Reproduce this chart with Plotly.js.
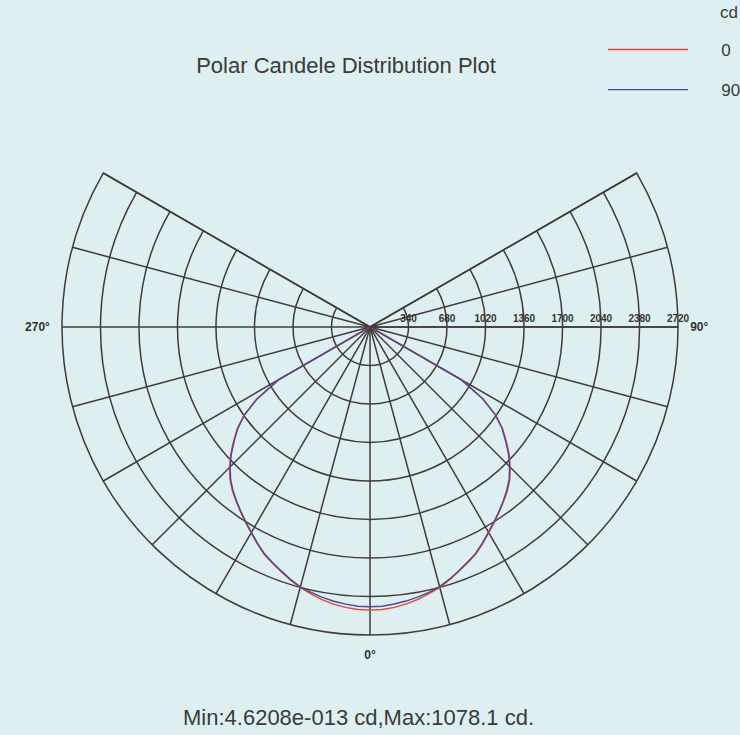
<!DOCTYPE html>
<html>
<head>
<meta charset="utf-8">
<script src="https://cdn.plot.ly/plotly-3.0.1.min.js"></script>
<style>html,body{margin:0;padding:0;background:#ddeff1;}</style>
</head>
<body>
<div id="chart" style="width:740px;height:735px;"></div>
<script>
// Angles (degrees, 0 = nadir, +90 = right side, -90 = left side)
var angles = [-90,-87.5,-85,-82.5,-80,-77.5,-75,-72.5,-70,-67.5,-65,-62.5,
              -60,-57.5,-55,-52.5,-50,-47.5,-45,-42.5,-40,-37.5,-35,-32.5,
              -30,-27.5,-25,-22.5,-20,-17.5,-15,-12.5,-10,-7.5,-5,-2.5,
              0,
              2.5,5,7.5,10,12.5,15,17.5,20,22.5,25,27.5,30,
              32.5,35,37.5,40,42.5,45,47.5,50,52.5,55,57.5,60,
              62.5,65,67.5,70,72.5,75,77.5,80,82.5,85,87.5,90];
// Plane C0-C180 (cd, read against the radial grid)
var plane0 = [0,0,0,0,0,0,0,0,0,0,0,0,
              935,1188,1358,1478,1574,1670,1755,1830,1890,1942,1994,2046,
              2100,2158,2214,2256,2298,2342,2382,2414,2444,2468,2486,2497,
              2500,
              2497,2485,2466,2442,2412,2381,2340,2296,2254,2212,2156,2098,
              2044,1992,1940,1888,1828,1752,1668,1572,1476,1356,1186,933,
              0,0,0,0,0,0,0,0,0,0,0,0];
// Plane C90-C270
var plane90 = [0,0,0,0,0,0,0,0,0,0,0,0,
               930,1182,1352,1471,1565,1661,1746,1822,1883,1936,1988,2041,
               2094,2152,2208,2250,2292,2337,2376,2401,2425,2443,2457,2469,
               2470,
               2468,2456,2441,2423,2400,2374,2335,2290,2248,2206,2150,2092,
               2039,1986,1934,1880,1819,1743,1659,1562,1469,1349,1179,926,
               0,0,0,0,0,0,0,0,0,0,0,0];
var seriesNames = ["0", "90"];
var seriesColors = ["#e8443c", "#4b4a92"];
// Radial grid (cd)
var radialTicks = [340, 680, 1020, 1360, 1700, 2040, 2380, 2720];
var radialLabels = ["340", "680", "1020", "1360", "1700", "2040", "2380", "2720"];
// Angular grid every 15 degrees
var angTicks = [-120,-105,-90,-75,-60,-45,-30,-15,0,15,30,45,60,75,90,105,120];
var angLabels = ["","","270°","","","","","","0°","","","","","","90°","",""];

var bg = "#ddeff1";
var gridCol = "#433a3a";
var txtCol = "#3a3a3a";
var pad = "\u00a0\u00a0\u00a0\u00a0\u00a0\u00a0";

var traces = [
  {type:"scatterpolar", mode:"lines", theta: angles, r: plane0, name: pad + seriesNames[0],
   legendgroup:"a", line:{color: seriesColors[0], width:1.4}, hoverinfo:"skip"},
  {type:"scatterpolar", mode:"lines", theta: angles, r: plane90, name: pad + seriesNames[1],
   legendgroup:"b", line:{color: seriesColors[1], width:1.4}, hoverinfo:"skip"}
];

var layout = {
  width: 740, height: 735,
  margin: {l:0, r:0, t:0, b:0, autoexpand:false},
  paper_bgcolor: bg,
  plot_bgcolor: bg,
  font: {family: "Liberation Sans, Arial, sans-serif", color: txtCol},
  title: {text: "Polar Candele Distribution Plot", x: 346/740, xanchor: "center",
          y: 1 - 65/735, yanchor: "middle", font: {size: 22, color: txtCol}},
  showlegend: true,
  legend: {x: 603/740, xanchor: "left", y: 1 - 32/735, yanchor: "top",
           bgcolor: "rgba(0,0,0,0)", itemwidth: 80, tracegroupgap: 15,
           traceorder: "grouped",
           font: {size: 17, color: txtCol}},
  polar: {
    domain: {x: [62/740, 678/740], y: [1 - 635/735, 1 - 173/735]},
    bgcolor: bg,
    sector: [-210, 30],
    angularaxis: {
      rotation: -90, direction: "counterclockwise",
      tickmode: "array", tickvals: angTicks, ticktext: angLabels,
      showgrid: true, gridcolor: gridCol, gridwidth: 1.5,
      showline: true, linecolor: gridCol, linewidth: 1.5,
      ticks: "outside", ticklen: 9, tickcolor: "rgba(0,0,0,0)",
      tickfont: {size: 12, color: "#333", weight: "bold"}
    },
    radialaxis: {
      range: [0, 2720], angle: 0, side: "counterclockwise", tickangle: 0,
      tickmode: "array", tickvals: radialTicks, ticktext: radialLabels,
      showgrid: true, gridcolor: gridCol, gridwidth: 1.5,
      showline: true, linecolor: gridCol, linewidth: 1.5,
      ticks: "",
      tickfont: {size: 10, color: "#333", weight: "bold"}
    }
  },
  annotations: [
    {text: "Min:4.6208e-013 cd,Max:1078.1 cd.", xref: "paper", yref: "paper",
     x: 358/740, y: 1 - 717/735, xanchor: "center", yanchor: "middle",
     showarrow: false, font: {size: 22, color: txtCol}},
    {text: "cd", xref: "paper", yref: "paper",
     x: 718/740, y: 1 - 13/735, xanchor: "left", yanchor: "middle",
     showarrow: false, font: {size: 17, color: txtCol}}
  ]
};

Plotly.newPlot("chart", traces, layout, {displayModeBar: false, staticPlot: true});
</script>
</body>
</html>
